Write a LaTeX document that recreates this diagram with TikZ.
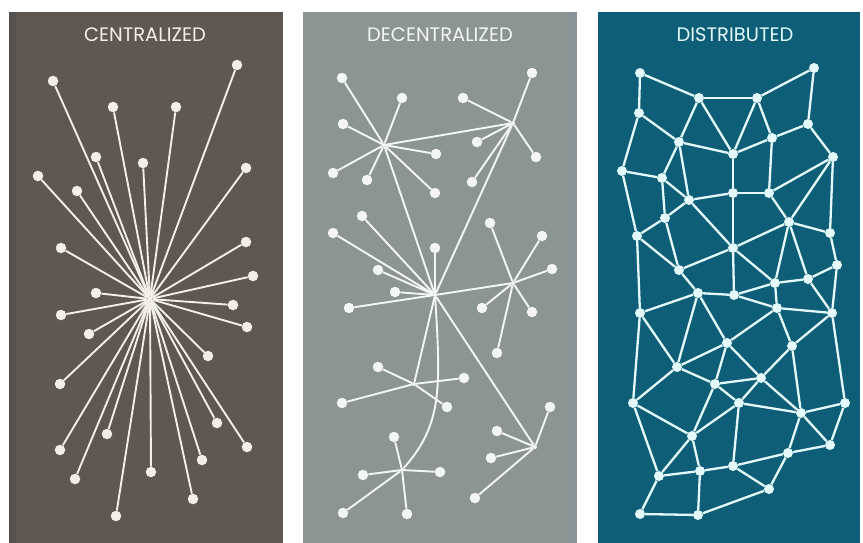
\documentclass[tikz,border=0pt]{standalone}
\usepackage{fontspec}
\newfontfamily\titlefont{Poppins}
\definecolor{cbg}{HTML}{5F5752}
\definecolor{cstrip}{HTML}{53504E}
\definecolor{dbg}{HTML}{8D9592}
\definecolor{dstrip}{HTML}{89939A}
\definecolor{tbg}{HTML}{0E5E77}
\definecolor{cfg}{HTML}{F2EFEA}
\definecolor{dfg}{HTML}{F4F6F4}
\definecolor{tfg}{HTML}{E4FAFA}
\begin{document}
\begin{tikzpicture}[x=1pt,y=-1pt,
  title/.style={font=\titlefont\fontsize{19.5}{19.5}\selectfont,inner sep=0pt},
  cdot/.style={circle,fill=cfg,inner sep=0pt,minimum size=10.5pt},
  chub/.style={circle,fill=cfg,inner sep=0pt,minimum size=5pt},
  cline/.style={draw=cfg,line width=1.9pt},
  ddot/.style={circle,fill=dfg,inner sep=0pt,minimum size=10.5pt},
  dhub/.style={circle,fill=dfg,inner sep=0pt,minimum size=4pt},
  dline/.style={draw=dfg,line width=1.9pt},
  tdot/.style={circle,fill=tfg,inner sep=0pt,minimum size=10pt},
  tline/.style={draw=tfg,line width=2.3pt}]
\useasboundingbox (0,0) rectangle (863,543);
\fill[white] (0,0) rectangle (863,543);
% panels
\fill[cbg] (9,12) rectangle (283,543);
\fill[cstrip] (9,12) rectangle (16,543);
\fill[dbg] (303,12) rectangle (577,543);
\fill[dstrip] (569,12) rectangle (577,543);
\fill[tbg] (598,12) rectangle (860,543);
% titles
\node[title,text=cfg] (t1) at (145,35) {CENTRALIZED};
\node[title,text=dfg] (t2) at (440,35) {DECENTRALIZED};
\node[title,text=tfg] (t3) at (735,35) {DISTRIBUTED};

% ---------- centralized ----------
\node[chub] (C0) at (150,299) {};
\foreach \n/\x/\y in {1/53/81,2/237/65,3/113/107,4/176/107,5/96/157,6/143/163,
  7/246/168,8/38/176,9/77/191,10/61/248,11/246/242,12/253/276,13/96/293,
  14/233/305,15/61/315,16/247/327,17/89/334,18/208/356,19/60/384,20/217/423,
  21/107/434,22/247/447,23/60/450,24/202/460,25/151/472,26/75/479,27/193/499,
  28/116/516}{
  \node[cdot] (c\n) at (\x,\y) {};
  \draw[cline] (C0) -- (c\n);
}

% ---------- decentralized ----------
\node[dhub] (hA) at (384,145) {};
\node[dhub] (hB) at (513,123) {};
\node[dhub] (hC) at (435,295) {};
\node[dhub] (hD) at (513,283) {};
\node[dhub] (hE) at (414,384) {};
\node[dhub] (hF) at (402,470) {};
\node[dhub] (hG) at (535,447) {};
\draw[dline] (hA) -- (hB);
\draw[dline] (hA) -- (hC);
\draw[dline] (hB) -- (hC);
\draw[dline] (hC) -- (hD);
\draw[dline] (hC) -- (hE);
\draw[dline] (hC) -- (hG);
\draw[dline] (hC) .. controls (441,390) and (442,425) .. (hF);
\foreach \n/\x/\y in {1/342/78,2/402/98,3/343/124,4/436/154,5/333/173,6/367/180,7/435/193}{
  \node[ddot] (a\n) at (\x,\y) {}; \draw[dline] (hA) -- (a\n);}
\foreach \n/\x/\y in {1/532/73,2/463/98,3/477/142,4/536/157,5/472/182}{
  \node[ddot] (b\n) at (\x,\y) {}; \draw[dline] (hB) -- (b\n);}
\foreach \n/\x/\y in {1/362/216,2/333/233,3/435/248,4/378/270,5/395/292,6/349/308}{
  \node[ddot] (cc\n) at (\x,\y) {}; \draw[dline] (hC) -- (cc\n);}
\foreach \n/\x/\y in {1/490/223,2/542/236,3/552/269,4/482/308,5/532/312,6/497/353}{
  \node[ddot] (d\n) at (\x,\y) {}; \draw[dline] (hD) -- (d\n);}
\foreach \n/\x/\y in {1/378/367,2/464/378,3/342/403,4/447/407}{
  \node[ddot] (e\n) at (\x,\y) {}; \draw[dline] (hE) -- (e\n);}
\foreach \n/\x/\y in {1/394/437,2/363/475,3/440/472,4/343/513,5/407/514}{
  \node[ddot] (f\n) at (\x,\y) {}; \draw[dline] (hF) -- (f\n);}
\foreach \n/\x/\y in {1/550/407,2/497/431,3/491/458,4/475/498}{
  \node[ddot] (g\n) at (\x,\y) {}; \draw[dline] (hG) -- (g\n);}

% ---------- distributed ----------
\foreach \n/\x/\y in {1/640/73,2/814/68,3/699/98,4/757/98,5/639/113,6/808/124,
  7/679/142,8/772/138,9/733/154,10/833/157,11/622/171,12/662/178,13/733/193,
  14/769/193,15/689/200,16/665/218,17/789/222,18/637/236,19/830/233,20/733/248,
  21/837/265,22/679/270,23/698/293,24/734/295,25/775/283,26/808/279,27/640/313,
  28/777/308,29/832/313,30/727/343,31/792/346,32/677/367,33/715/384,34/761/378,
  35/633/403,36/739/403,37/845/403,38/801/413,39/692/436,40/830/445,41/788/453,
  42/659/476,43/700/471,44/733/466,45/769/489,46/640/514,47/698/515}{
  \node[tdot] (n\n) at (\x,\y) {};
}
\foreach \a/\b in {1/3,1/5,3/4,4/2,2/6,3/7,3/9,4/9,4/8,5/7,5/11,7/9,8/9,8/6,6/10,
  7/12,7/15,9/13,8/14,11/12,11/18,12/15,12/16,15/13,15/16,15/20,13/14,13/20,
  14/10,14/17,10/17,10/19,17/19,19/21,17/20,17/25,17/26,21/26,21/29,20/25,
  25/26,20/24,24/25,25/28,24/28,26/29,28/29,28/30,28/31,29/31,29/37,16/18,
  16/22,18/22,22/20,22/23,18/27,27/23,23/24,23/32,23/30,27/32,30/32,30/33,
  30/34,31/34,31/38,32/35,32/33,33/34,33/36,34/36,34/38,27/35,35/39,35/42,
  33/39,36/39,36/38,36/44,38/37,38/40,37/40,38/41,40/41,39/42,39/43,42/43,
  43/44,44/41,44/45,41/45,42/46,43/47,46/47,47/45}{
  \draw[tline] (n\a) -- (n\b);
}
\end{tikzpicture}
\end{document}
